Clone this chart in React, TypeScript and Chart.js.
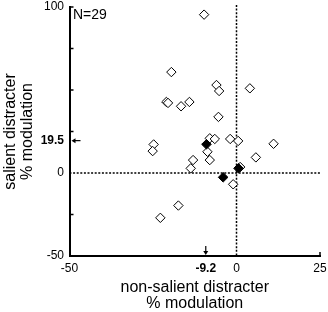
import { useEffect, useRef } from "react";
import { Chart, registerables } from "chart.js";

Chart.register(...registerables);

// ---- data ----
const openX = [-9.7, -19.5, -6.0, -5.2, 4.0, -21.0, -20.5, -14.1, -16.6, -5.4, -8.0, -6.5, -1.9, 0.5, 11.1, -24.8, -25.1, -8.7, 5.8, -13.0, -8.0, -13.7, 1.1, -1.0, -17.4, -22.8];
const openY = [95.4, 60.8, 53.0, 49.4, 51.0, 42.8, 42.2, 42.8, 40.2, 33.8, 20.9, 20.5, 20.5, 19.3, 17.6, 17.2, 13.2, 12.8, 9.4, 7.8, 7.8, 2.8, 3.6, -6.8, -19.6, -27.0];
const filledX = [-9.0, 0.6, -4.0];
const filledY = [17.3, 2.8, -2.6];

const meanX = -9.2;
const meanY = 19.5;
const xTickValues = [-50, meanX, 0, 25];
const yTickValues = [-50, 0, meanY, 100];
const yMinorTicks = [-25, 25, 50, 75, 100];
const xMinorTicks = [25];
const sampleLabel = "N=29";
const xTitle = ["non-salient distracter", "% modulation"];
const yTitle = ["salient distracter", "% modulation"];

const FAMILY = "'Liberation Sans', Arial, sans-serif";

const overlay = {
  id: "overlay",
  beforeDatasetsDraw(chart: any) {
    const { ctx, chartArea: a, scales } = chart;
    const x = scales.x;
    const y = scales.y;
    ctx.save();
    ctx.strokeStyle = "#000";
    ctx.lineWidth = 1.5;
    ctx.setLineDash([2, 1.6]);
    const x0 = x.getPixelForValue(0);
    const y0 = y.getPixelForValue(0);
    ctx.beginPath();
    ctx.moveTo(x0, a.top - 2);
    ctx.lineTo(x0, a.bottom);
    ctx.moveTo(a.left, y0);
    ctx.lineTo(a.right, y0);
    ctx.stroke();
    ctx.restore();
  },
  afterDraw(chart: any) {
    const { ctx, chartArea: a, scales } = chart;
    const x = scales.x;
    const y = scales.y;
    ctx.save();
    ctx.strokeStyle = "#000";
    ctx.fillStyle = "#000";
    ctx.lineWidth = 1.5;
    // inward ticks
    ctx.beginPath();
    yMinorTicks.forEach((v) => {
      const py = y.getPixelForValue(v);
      ctx.moveTo(a.left, py);
      ctx.lineTo(a.left + 4, py);
    });
    xMinorTicks.forEach((v) => {
      const px = x.getPixelForValue(v);
      ctx.moveTo(px, a.bottom);
      ctx.lineTo(px, a.bottom - 4);
    });
    ctx.stroke();
    // arrows
    const py = y.getPixelForValue(meanY);
    ctx.lineWidth = 1.2;
    ctx.beginPath();
    ctx.moveTo(a.left + 5, py);
    ctx.lineTo(a.left + 11, py);
    ctx.stroke();
    ctx.beginPath();
    ctx.moveTo(a.left + 2, py);
    ctx.lineTo(a.left + 6, py - 2.5);
    ctx.lineTo(a.left + 6, py + 2.5);
    ctx.closePath();
    ctx.fill();
    const px = x.getPixelForValue(meanX);
    ctx.beginPath();
    ctx.moveTo(px, a.bottom - 10);
    ctx.lineTo(px, a.bottom - 4);
    ctx.stroke();
    ctx.beginPath();
    ctx.moveTo(px, a.bottom - 1);
    ctx.lineTo(px - 2.5, a.bottom - 5);
    ctx.lineTo(px + 2.5, a.bottom - 5);
    ctx.closePath();
    ctx.fill();
    // N label
    ctx.font = `14px ${FAMILY}`;
    ctx.textAlign = "left";
    ctx.textBaseline = "middle";
    ctx.fillText(sampleLabel, a.left + 3.5, a.top + 8);
    ctx.restore();
  },
};

export default function App() {
  const ref = useRef<HTMLCanvasElement>(null);
  useEffect(() => {
    if (!ref.current) return;
    const tickFont = (c: any) => ({
      size: 12,
      family: FAMILY,
      weight: c && c.tick && (c.tick.value === meanX || c.tick.value === meanY) ? "bold" : "normal",
    });
    const chart = new Chart(ref.current, {
      type: "scatter",
      data: {
        datasets: [
          {
            data: filledX.map((v, i) => ({ x: v, y: filledY[i] })),
            backgroundColor: "#000",
            borderColor: "#000",
            borderWidth: 1,
            pointStyle: "rectRot",
            pointRadius: 4.8,
          },
          {
            data: openX.map((v, i) => ({ x: v, y: openY[i] })),
            backgroundColor: "#fff",
            borderColor: "#000",
            borderWidth: 1,
            pointStyle: "rectRot",
            pointRadius: 4.7,
          },
        ],
      },
      options: {
        animation: false,
        responsive: false,
        devicePixelRatio: 1,
        layout: { padding: { top: 7, right: 8, left: 0, bottom: 0 } },
        plugins: { legend: { display: false }, tooltip: { enabled: false } },
        scales: {
          x: {
            type: "linear",
            min: -50,
            max: 25,
            afterBuildTicks: (s: any) => {
              s.ticks = xTickValues.map((v) => ({ value: v }));
            },
            afterFit: (s: any) => {
              s.height = 56;
              s.paddingLeft = 0;
              s.paddingRight = 0;
            },
            grid: { display: false, drawTicks: false, tickLength: 0 },
            border: { display: true, color: "#000", width: 2 },
            ticks: {
              autoSkip: false,
              maxRotation: 0,
              padding: 5,
              color: "#000",
              font: tickFont as any,
              callback: (v: any) => String(v),
            },
            title: {
              display: true,
              text: xTitle,
              color: "#000",
              font: { size: 16, family: FAMILY, lineHeight: "16.5px" as any },
              padding: { top: 2, bottom: 0 },
            },
          },
          y: {
            type: "linear",
            min: -50,
            max: 100,
            afterBuildTicks: (s: any) => {
              s.ticks = yTickValues.map((v) => ({ value: v }));
            },
            afterFit: (s: any) => {
              s.width = 69.5;
              s.paddingTop = 0;
              s.paddingBottom = 0;
            },
            grid: { display: false, drawTicks: false, tickLength: 0 },
            border: { display: true, color: "#000", width: 2 },
            ticks: {
              autoSkip: false,
              padding: 5.5,
              color: "#000",
              font: tickFont as any,
              callback: (v: any) => String(v),
            },
            title: {
              display: true,
              text: yTitle,
              color: "#000",
              font: { size: 16, family: FAMILY, lineHeight: "16.5px" as any },
              padding: { top: 2.5, bottom: 0 },
            },
          },
        },
      },
      plugins: [overlay],
    });
    return () => chart.destroy();
  }, []);
  return (
    <div style={{ position: "absolute", left: 0, top: 0, width: 328, height: 312, background: "#fff" }}>
      <canvas ref={ref} width={328} height={312} style={{ display: "block" }} />
    </div>
  );
}
